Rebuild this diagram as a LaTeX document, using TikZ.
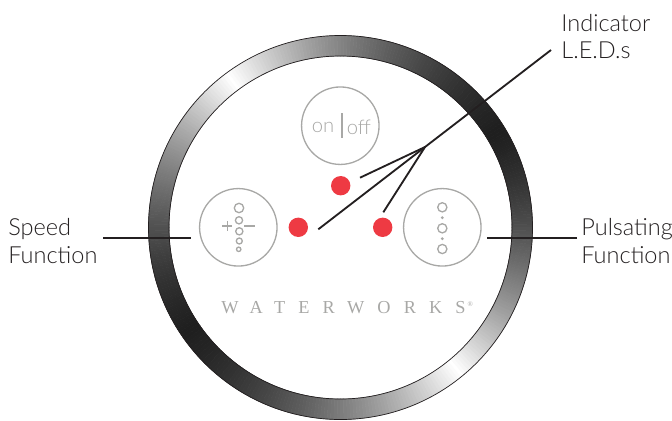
\documentclass[tikz,border=0pt]{standalone}
\usepackage{fontspec}
\setmainfont{Lato Light}
\newfontfamily\brandfont[LetterSpace=72]{Liberation Serif}
\usepackage{xcolor}
\definecolor{ink}{HTML}{231F20}
\definecolor{led}{HTML}{EE3A43}
\definecolor{panel}{HTML}{A8A8A6}
\usetikzlibrary{positioning}

\begin{document}
\begin{tikzpicture}[
  x=0.02cm, y=-0.02cm,
  btn/.style={draw=panel, circle, line width=0.75pt, minimum size=1.55cm, inner sep=0pt},
  lamp/.style={fill=led, circle, minimum size=0.388cm, inner sep=0pt},
  lbl/.style={align=left, anchor=north west, inner sep=0pt, text=ink, font=\fontsize{13.4}{15.6}\selectfont},
  btntext/.style={inner sep=0pt, text=panel, font=\fontsize{11.5}{12}\selectfont},
  lead/.style={draw=ink, line width=1.05pt},
  glyph/.style={draw=panel, line width=0.75pt}
]

\useasboundingbox (0,0) rectangle (672,420);

% ring, dark at upper right and lower left
\begin{scope}[shift={(340.5,227.5)}]
  \foreach \v in {0,...,359}{
    \pgfmathsetmacro{\u}{mod(\v+329,360)}
    \pgfmathsetmacro{\t}{\u<95 ? \u/95 : (\u<183 ? (183-\u)/88 : (\u<278 ? (\u-183)/95 : (360-\u)/82))}
    \pgfmathsetmacro{\k}{88*(1-0.3*\t-0.7*\t*\t)}
    \filldraw[draw=black!\k!white, fill=black!\k!white, line width=0.3pt]
      (-\v:192) -- (-\v-1:192) -- (-\v-1:171.5) -- (-\v:171.5) -- cycle;
  }
  \draw[ink, line width=0.4pt] (0,0) circle (192);
  \draw[ink, line width=0.4pt] (0,0) circle (171.5);
\end{scope}

\node[btn] (power) at (340.3,125.7) {};
\node[btn] (speed) at (238.3,227.3) {};
\node[btn] (pulse) at (442.3,227.3) {};

\node[lamp] (ledtop) at (340.7,185.7) {};
\node[lamp] (ledleft) at (298.3,227.3) {};
\node[lamp] (ledright) at (382.7,227.3) {};

\node[btntext, anchor=east] (on) at (334.5,127.5) {on};
\node[btntext, anchor=west] (off) at (346.5,127.5) {off};
\draw[draw=panel, line width=0.85pt] (342,113) -- (342,137.7);

% speed icon
\foreach \cx/\cy/\cr in {239/208/4.7, 239/220.3/3.6, 239.3/231.3/3.6, 239.3/241/3, 238.7/249.3/2.2}
  \draw[glyph] (\cx,\cy) circle (\cr);
\draw[glyph] (222.3,226) -- (232.3,226);
\draw[glyph] (227.3,221) -- (227.3,231);
\draw[glyph] (244.3,226) -- (254.7,226);

% pulse icon
\foreach \cy in {207.3,228.3,249}
  \draw[glyph] (442.3,\cy) circle (4.6);
\foreach \cy in {217.7,238.7}
  \fill[panel] (442.3,\cy) circle (1.6);

\node[inner sep=0pt, text=panel, anchor=west] (brand) at (221,308)
  {\brandfont\fontsize{10.4}{11}\selectfont WATERWORKS\raisebox{0.85ex}{\kern1.2pt\fontsize{4}{4}\selectfont ®}};

\node[lbl] (speedlbl) at (8,218.5) {Speed\\Function};
\node[lbl] (pulselbl) at (581,218.5) {Pulsating\\Function};
\node[lbl] (ledlbl) at (561,14) {Indicator\\L.E.D.s};

\coordinate (hub) at (425,147);
\coordinate (ledend) at (551,50);
\coordinate (topend) at (360,177.7);
\coordinate (rightend) at (383.3,212.3);
\coordinate (leftend) at (318.3,229.3);
\coordinate (speedend) at (103,237.7);
\coordinate (speedtip) at (191,237.7);
\coordinate (pulseend) at (577,237.7);
\coordinate (pulsetip) at (487,237.7);

\draw[lead] (ledend) -- (hub) -- (leftend);
\draw[lead] (hub) -- (topend);
\draw[lead] (hub) -- (rightend);
\draw[lead] (speedend) -- (speedtip);
\draw[lead] (pulseend) -- (pulsetip);

\end{tikzpicture}
\end{document}
